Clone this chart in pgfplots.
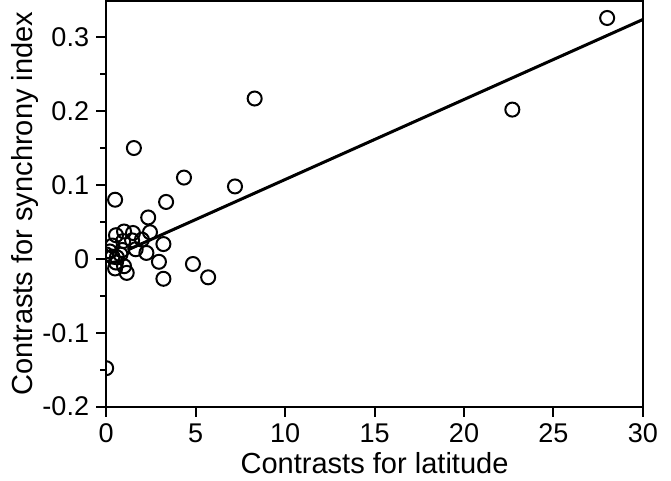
\documentclass[border=0pt]{standalone}
\usepackage{pgfplots}
\pgfplotsset{compat=1.18}
\usepackage{fontspec}
\setmainfont{Liberation Sans}
\begin{document}
\begin{tikzpicture}
\begin{axis}[
  scale only axis, width=268pt, height=202.5pt,
  xmin=0, xmax=30, ymin=-0.2, ymax=0.349,
  axis line style={line width=1pt},
  xtick={0,5,...,30},
  ytick={-0.2,-0.1,0,0.1,0.2,0.3},
  yticklabels={-0.2,-0.1,0,0.1,0.2,0.3},
  minor ytick={-0.15,-0.05,0.05,0.15,0.25},
  xtick pos=bottom, ytick pos=left, tick align=outside,
  major tick length=5pt, minor tick length=3pt,
  every tick/.style={line width=1pt, black},
  tick label style={font=\fontsize{13.5}{16}\selectfont},
  label style={font=\fontsize{14.5}{17}\selectfont},
  /pgf/number format/assume math mode=true,
  xlabel={Contrasts for latitude},
  ylabel={Contrasts for synchrony index},
  xlabel style={yshift=2pt},
  ylabel style={yshift=-5pt},
  clip marker paths=true,
]
\addplot[only marks, mark=o, mark size=3.5pt, mark options={line width=1pt}] coordinates {
(28.0,0.326) (22.7,0.202) (8.3,0.217) (7.2,0.098) (4.35,0.110) (1.55,0.150)
(0.5,0.080) (3.35,0.077) (2.35,0.056) (2.45,0.036) (1.0,0.037) (1.5,0.035)
(0.55,0.032) (2.0,0.026) (1.45,0.025) (0.95,0.024) (3.2,0.020) (0.35,0.018)
(1.65,0.013) (0.9,0.012) (2.25,0.008) (0.2,0.010) (0.8,0.006) (0.6,0.002)
(0.35,0.003) (2.95,-0.004) (4.85,-0.007) (0.55,-0.005) (0.5,-0.013) (1.0,-0.010)
(1.15,-0.019) (3.2,-0.027) (5.7,-0.025) (0.0,0.006) (0.0,-0.148)
};
\addplot[black, line width=1.5pt] coordinates {(1.2,0.012) (30,0.324)};
\end{axis}
\path (-53pt,0) (282pt,0);
\end{tikzpicture}
\end{document}
